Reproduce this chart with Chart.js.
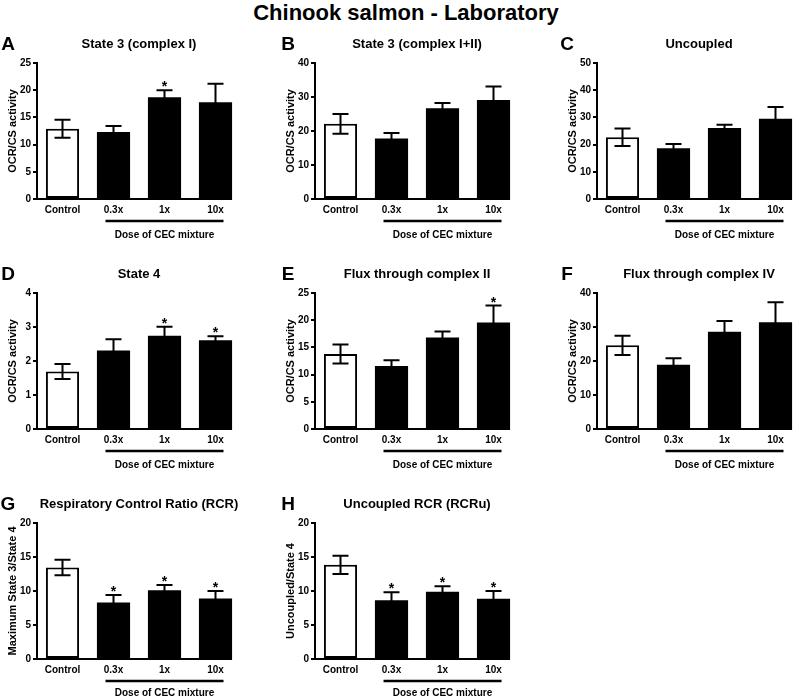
<!DOCTYPE html>
<html>
<head>
<meta charset="utf-8">
<script src="https://cdn.jsdelivr.net/npm/chart.js@4.4.0/dist/chart.umd.min.js"></script>
<style>
  html, body { margin: 0; padding: 0; background: #fff; }
  body { position: relative; width: 800px; height: 696px; overflow: hidden;
         font-family: "Liberation Sans", Arial, sans-serif; color: #000; }
  #mainTitle { position: absolute; left: 0; width: 812px; top: 0; text-align: center;
               font-size: 22px; font-weight: bold; line-height: 25px; }
  .letter { position: absolute; font-size: 19px; font-weight: bold; line-height: 1;
            transform: translate(-50%, -50%); }
  canvas { position: absolute; }
</style>
</head>
<body>
<div id="mainTitle">Chinook salmon - Laboratory</div>
<script>
const doseLabels = ['Control', '0.3x', '1x', '10x']

// A - State 3 (complex I)
const state3CI = [12.9, 12.3, 18.7, 17.8]
const state3CISem = [1.65, 1.1, 1.3, 3.4]
const state3CISig = [false, false, true, false]

// B - State 3 (complex I+II)
const state3CIII = [22.1, 17.8, 26.7, 29.1]
const state3CIIISem = [2.9, 1.6, 1.5, 4.0]
const state3CIIISig = [false, false, false, false]

// C - Uncoupled
const uncoupled = [22.7, 18.7, 26.1, 29.5]
const uncoupledSem = [3.2, 1.5, 1.2, 4.3]
const uncoupledSig = [false, false, false, false]

// D - State 4
const state4 = [1.69, 2.31, 2.74, 2.61]
const state4Sem = [0.22, 0.33, 0.27, 0.12]
const state4Sig = [false, false, true, true]

// E - Flux through complex II
const fluxCII = [13.8, 11.6, 16.8, 19.6]
const fluxCIISem = [1.75, 1.05, 1.1, 3.1]
const fluxCIISig = [false, false, false, true]

// F - Flux through complex IV
const fluxCIV = [24.6, 18.9, 28.6, 31.4]
const fluxCIVSem = [2.85, 1.9, 3.2, 5.9]
const fluxCIVSig = [false, false, false, false]

// G - Respiratory Control Ratio
const rcr = [13.46, 8.3, 10.1, 8.9]
const rcrSem = [1.15, 1.1, 0.8, 1.1]
const rcrSig = [false, true, true, true]

// H - Uncoupled RCR
const rcru = [13.85, 8.65, 9.9, 8.85]
const rcruSem = [1.35, 1.15, 0.8, 1.15]
const rcruSig = [false, true, true, true]

const panels = [
  { letter: 'A', title: 'State 3 (complex I)', yTitle: 'OCR/CS activity', means: state3CI, sem: state3CISem, sig: state3CISig, max: 25, step: 5, col: 0, row: 0 },
  { letter: 'B', title: 'State 3 (complex I+II)', yTitle: 'OCR/CS activity', means: state3CIII, sem: state3CIIISem, sig: state3CIIISig, max: 40, step: 10, col: 1, row: 0 },
  { letter: 'C', title: 'Uncoupled', yTitle: 'OCR/CS activity', means: uncoupled, sem: uncoupledSem, sig: uncoupledSig, max: 50, step: 10, col: 2, row: 0 },
  { letter: 'D', title: 'State 4', yTitle: 'OCR/CS activity', means: state4, sem: state4Sem, sig: state4Sig, max: 4, step: 1, col: 0, row: 1 },
  { letter: 'E', title: 'Flux through complex II', yTitle: 'OCR/CS activity', means: fluxCII, sem: fluxCIISem, sig: fluxCIISig, max: 25, step: 5, col: 1, row: 1 },
  { letter: 'F', title: 'Flux through complex IV', yTitle: 'OCR/CS activity', means: fluxCIV, sem: fluxCIVSem, sig: fluxCIVSig, max: 40, step: 10, col: 2, row: 1 },
  { letter: 'G', title: 'Respiratory Control Ratio (RCR)', yTitle: 'Maximum State 3/State 4', means: rcr, sem: rcrSem, sig: rcrSig, max: 20, step: 5, col: 0, row: 2 },
  { letter: 'H', title: 'Uncoupled RCR (RCRu)', yTitle: 'Uncoupled/State 4', means: rcru, sem: rcruSem, sig: rcruSig, max: 20, step: 5, col: 1, row: 2 },
]

// layout of the grid (pixel positions of y axes / plot tops)
const colAxis = [37, 315, 597]
const rowTop = [63, 293, 523]
const doseTextOffset = [36, 36, 34]
const letterX = [8, 288, 567]
const yAxisWidth = 37
const plotWidth = 204
const plotHeight = 136
const titleSpace = 40
const bottomSpace = 50

Chart.defaults.font.family = '"Liberation Sans", Arial, sans-serif'
Chart.defaults.color = '#000'

// error bars, significance stars, x axis line and the dose bracket
const panelExtras = {
  id: 'panelExtras',
  afterDatasetsDraw(chart, args, opts) {
    const { ctx, chartArea } = chart
    const y = chart.scales.y
    const meta = chart.getDatasetMeta(0)
    const means = chart.data.datasets[0].data
    ctx.save()
    ctx.strokeStyle = '#000'
    ctx.fillStyle = '#000'
    ctx.lineWidth = 2
    means.forEach((m, i) => {
      const cx = meta.data[i].x
      const top = y.getPixelForValue(m + opts.sem[i])
      const bot = y.getPixelForValue(m - opts.sem[i])
      ctx.beginPath()
      ctx.moveTo(cx, top); ctx.lineTo(cx, bot)
      ctx.moveTo(cx - 8, top); ctx.lineTo(cx + 8, top)
      ctx.moveTo(cx - 8, bot); ctx.lineTo(cx + 8, bot)
      ctx.stroke()
      if (opts.sig[i]) {
        ctx.font = 'bold 14px "Liberation Sans", Arial, sans-serif'
        ctx.textAlign = 'center'
        ctx.textBaseline = 'alphabetic'
        ctx.fillText('*', cx, top + 1)
      }
    })

    // x axis stops at the last bar, like the original
    const last = meta.data[meta.data.length - 1]
    ctx.beginPath()
    ctx.moveTo(chartArea.left, chartArea.bottom)
    ctx.lineTo(last.x + last.width / 2, chartArea.bottom)
    ctx.stroke()

    // "Dose of CEC mixture" bracket under the dosed groups
    const x1 = meta.data[1].x - 8
    const x2 = last.x + 8
    ctx.lineWidth = 2.5
    ctx.beginPath()
    ctx.moveTo(x1, chartArea.bottom + 22)
    ctx.lineTo(x2, chartArea.bottom + 22)
    ctx.stroke()
    ctx.font = 'bold 10px "Liberation Sans", Arial, sans-serif'
    ctx.textAlign = 'center'
    ctx.textBaseline = 'middle'
    ctx.fillText('Dose of CEC mixture', (x1 + x2) / 2, chartArea.bottom + opts.textOffset)
    ctx.restore()
  }
}

panels.forEach((p) => {
  const left = colAxis[p.col] - yAxisWidth
  const top = rowTop[p.row] - titleSpace

  const canvas = document.createElement('canvas')
  canvas.width = yAxisWidth + plotWidth
  canvas.height = titleSpace + plotHeight + bottomSpace
  canvas.style.left = left + 'px'
  canvas.style.top = top + 'px'
  document.body.appendChild(canvas)

  const letter = document.createElement('div')
  letter.className = 'letter'
  letter.textContent = p.letter
  letter.style.left = letterX[p.col] + 'px'
  letter.style.top = (rowTop[p.row] - 20) + 'px'
  document.body.appendChild(letter)

  new Chart(canvas.getContext('2d'), {
    type: 'bar',
    data: {
      labels: doseLabels,
      datasets: [{
        data: p.means,
        backgroundColor: ['#ffffff', '#000000', '#000000', '#000000'],
        borderColor: '#000000',
        // only the control bar is outlined; solid bars need no border (avoids a seam)
        borderWidth: [2, 0, 0, 0],
        borderSkipped: false,
        barPercentage: 0.65,
        categoryPercentage: 1
      }]
    },
    options: {
      responsive: false,
      animation: false,
      layout: { padding: 0 },
      plugins: {
        legend: { display: false },
        tooltip: { enabled: false },
        title: {
          display: true,
          text: p.title,
          fullSize: false,
          color: '#000',
          font: { size: 13, weight: 'bold' },
          padding: { top: 13.7, bottom: 10.7 }
        },
        panelExtras: { sem: p.sem, sig: p.sig, textOffset: doseTextOffset[p.row] }
      },
      scales: {
        x: {
          offset: true,
          grid: { display: false, drawTicks: false },
          border: { display: false },
          ticks: { color: '#000', font: { size: 10, weight: 'bold' }, padding: 5, maxRotation: 0, autoSkip: false },
          afterFit: (s) => { s.height = bottomSpace }
        },
        y: {
          min: 0,
          max: p.max,
          ticks: { stepSize: p.step, color: '#000', font: { size: 10, weight: 'bold' }, padding: 2 },
          grid: { display: true, drawOnChartArea: false, drawTicks: true, tickLength: 4, color: '#000', lineWidth: 2 },
          border: { display: true, color: '#000', width: 2 },
          title: {
            display: true,
            text: p.yTitle,
            color: '#000',
            font: { size: 11, weight: 'bold' },
            padding: { top: 6, bottom: 0 }
          },
          afterFit: (s) => { s.width = yAxisWidth }
        }
      }
    },
    plugins: [panelExtras]
  })
})
</script>
</body>
</html>
